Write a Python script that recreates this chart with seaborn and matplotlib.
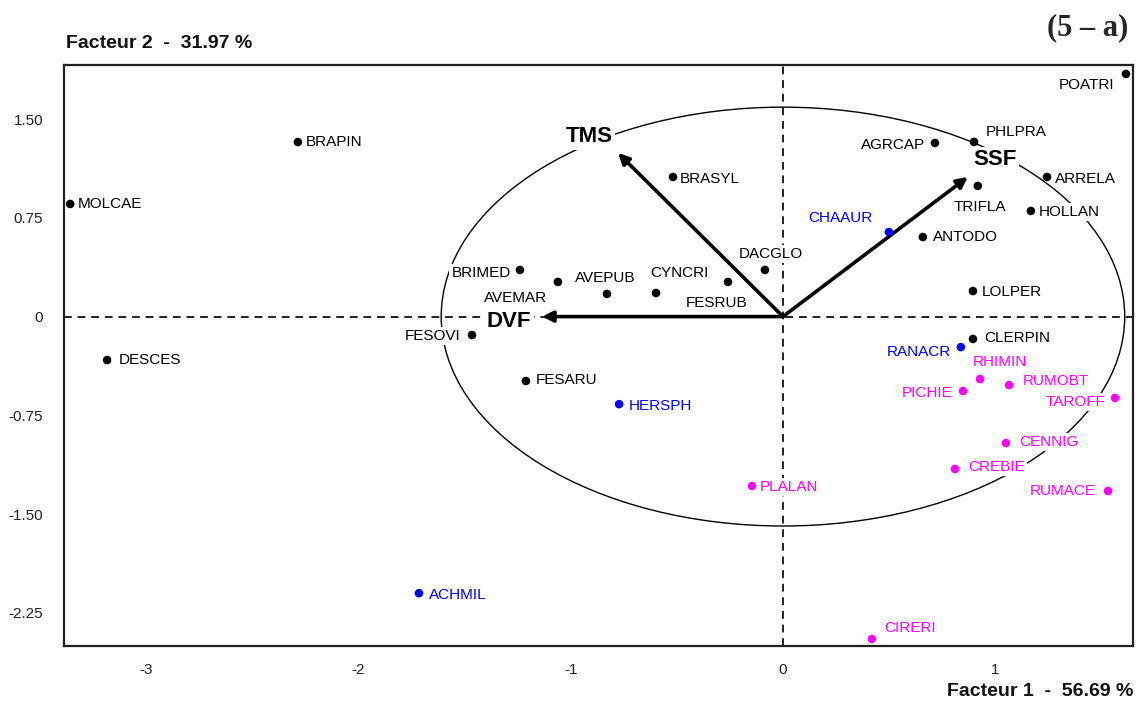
import numpy as np
import pandas as pd
import matplotlib
matplotlib.use("Agg")
import matplotlib.pyplot as plt
from matplotlib.patches import Ellipse
import seaborn as sns

# ---------------- data ----------------
species = ["POATRI", "BRAPIN", "MOLCAE", "AGRCAP", "PHLPRA", "BRASYL", "ARRELA",
           "TRIFLA", "HOLLAN", "ANTODO", "DACGLO", "BRIMED", "AVEMAR", "AVEPUB",
           "CYNCRI", "FESRUB", "FESOVI", "DESCES", "FESARU", "LOLPER", "CLERPIN",
           "CHAAUR", "RANACR", "HERSPH", "ACHMIL",
           "RHIMIN", "RUMOBT", "PICHIE", "TAROFF", "CENNIG", "CREBIE", "RUMACE",
           "PLALAN", "CIRERI"]
f1 = [1.616, -2.285, -3.358, 0.716, 0.900, -0.518, 1.244,
      0.918, 1.168, 0.659, -0.085, -1.239, -1.060, -0.829,
      -0.598, -0.259, -1.465, -3.184, -1.211, 0.895, 0.895,
      0.499, 0.838, -0.772, -1.715,
      0.928, 1.065, 0.848, 1.564, 1.050, 0.810, 1.531,
      -0.146, 0.419]
f2 = [1.842, 1.325, 0.855, 1.318, 1.326, 1.060, 1.060,
      0.992, 0.802, 0.604, 0.354, 0.354, 0.263, 0.172,
      0.179, 0.263, -0.140, -0.330, -0.489, 0.194, -0.170,
      0.642, -0.232, -0.665, -2.100,
      -0.474, -0.520, -0.565, -0.618, -0.960, -1.157, -1.324,
      -1.286, -2.448]
group = (["g1"] * 21) + (["g2"] * 4) + (["g3"] * 9)

vectors = ["TMS", "SSF", "DVF"]
vec_f1 = [-0.777, 0.871, -1.135]
vec_f2 = [1.242, 1.060, 0.0]

xticks = [-3, -2, -1, 0, 1]
yticks = [-2.25, -1.50, -0.75, 0, 0.75, 1.50]
ytick_labels = ["-2.25", "-1.50", "-0.75", "0", "0.75", "1.50"]

xlabel_txt = "Facteur 1  -  56.69 %"
ylabel_txt = "Facteur 2  -  31.97 %"
panel_txt = "(5 \u2013 a)"

# ---------------- style ----------------
palette = {"g1": "#000000", "g2": "#0000ff", "g3": "#ff00ff"}

# label offsets in pixels (dx, dy, ha)
label_pos = {
    "POATRI": (-12, -11, "right"), "BRAPIN": (8, 0, "left"), "MOLCAE": (8, 0, "left"),
    "AGRCAP": (-10, -2, "right"), "PHLPRA": (12, 10, "left"), "BRASYL": (7, -2, "left"),
    "ARRELA": (8, -2, "left"), "TRIFLA": (2, -21, "center"), "HOLLAN": (8, -1, "left"),
    "ANTODO": (10, 0, "left"), "DACGLO": (6, 16, "center"), "BRIMED": (-9, -3, "right"),
    "AVEMAR": (-11, -16, "right"), "AVEPUB": (-2, 16, "center"), "CYNCRI": (-6, 20, "left"),
    "FESRUB": (-11, -21, "center"), "FESOVI": (-11, -1, "right"), "DESCES": (12, 0, "left"),
    "FESARU": (10, 1, "left"), "LOLPER": (9, -1, "left"), "CLERPIN": (11, 1, "left"),
    "CHAAUR": (-16, 14, "right"), "RANACR": (-10, -5, "right"), "HERSPH": (10, -2, "left"),
    "ACHMIL": (10, -2, "left"), "RHIMIN": (-7, 17, "left"), "RUMOBT": (14, 4, "left"),
    "PICHIE": (-10, -2, "right"), "TAROFF": (-10, -4, "right"), "CENNIG": (13, 1, "left"),
    "CREBIE": (13, 2, "left"), "RUMACE": (-12, 0, "right"), "PLALAN": (8, -1, "left"),
    "CIRERI": (12, 11, "left"),
}
vec_label_pos = {"TMS": (-29, 16), "SSF": (27, 17), "DVF": (-33, -5)}

sns.set_style("white")
plt.rcParams["font.family"] = ["Liberation Sans", "DejaVu Sans"]

df = pd.DataFrame({"species": species, "f1": f1, "f2": f2, "group": group})

fig = plt.figure(figsize=(11.43, 7.05), dpi=100)
ax = fig.add_axes([64 / 1143, 1 - 646 / 705, (1133 - 64) / 1143, (646 - 65) / 705])

# reference lines
ax.axhline(0, color="#222222", lw=1.4, ls=(0, (4, 3)), zorder=1)
ax.axvline(0, color="#222222", lw=1.4, ls=(0, (4, 3)), zorder=1)

# correlation ellipse
ax.add_patch(Ellipse((0, 0), width=2 * 1.61, height=2 * 1.59, fill=False,
                     edgecolor="black", lw=1.0, zorder=2))

# arrows
for name, vx, vy in zip(vectors, vec_f1, vec_f2):
    ax.annotate("", xy=(vx, vy), xytext=(0, 0),
                arrowprops=dict(arrowstyle="-|>", color="black", lw=2.6,
                                mutation_scale=16, shrinkA=0, shrinkB=0),
                zorder=5)
    dx, dy = vec_label_pos[name]
    ax.annotate(name, xy=(vx, vy), xytext=(dx, dy), textcoords="offset pixels",
                ha="center", va="center", fontsize=16, fontweight="bold",
                color="black", zorder=6,
                bbox=dict(boxstyle="square,pad=0.1", fc="white", ec="none"))

# points
sns.scatterplot(data=df, x="f1", y="f2", hue="group", palette=palette, s=38,
                linewidth=0, legend=False, ax=ax, zorder=7)

for _, r in df.iterrows():
    dx, dy, ha = label_pos[r["species"]]
    ax.annotate(r["species"], xy=(r["f1"], r["f2"]), xytext=(dx, dy),
                textcoords="offset pixels", ha=ha, va="center", fontsize=11,
                color=palette[r["group"]], zorder=4,
                bbox=dict(boxstyle="square,pad=0.15", fc="white", ec="none"))

ax.set_xlim(-3.387, 1.649)
ax.set_ylim(-2.501, 1.910)
ax.set_xticks(xticks)
ax.set_xticklabels([str(t) for t in xticks])
ax.set_yticks(yticks)
ax.set_yticklabels(ytick_labels)
ax.set_xlabel("")
ax.set_ylabel("")
ax.tick_params(direction="inout", length=10, width=1.1, colors="black",
               labelsize=11, labelcolor="#222222")
ax.tick_params(axis="y", pad=10)
ax.tick_params(axis="x", pad=7)
for s in ax.spines.values():
    s.set_color("#222222")
    s.set_linewidth(1.6)

fig.text(66 / 1143, 1 - 43 / 705, ylabel_txt, ha="left", va="center",
         fontsize=14, fontweight="bold", color="#111111")
fig.text(1133 / 1143, 1 - 692 / 705, xlabel_txt, ha="right", va="center",
         fontsize=14, fontweight="bold", color="#111111")
fig.text(1128 / 1143, 1 - 28 / 705, panel_txt, ha="right", va="center",
         fontsize=22, fontweight="bold", family=["Liberation Serif", "DejaVu Serif"])

fig.savefig("out.png", dpi=100)
